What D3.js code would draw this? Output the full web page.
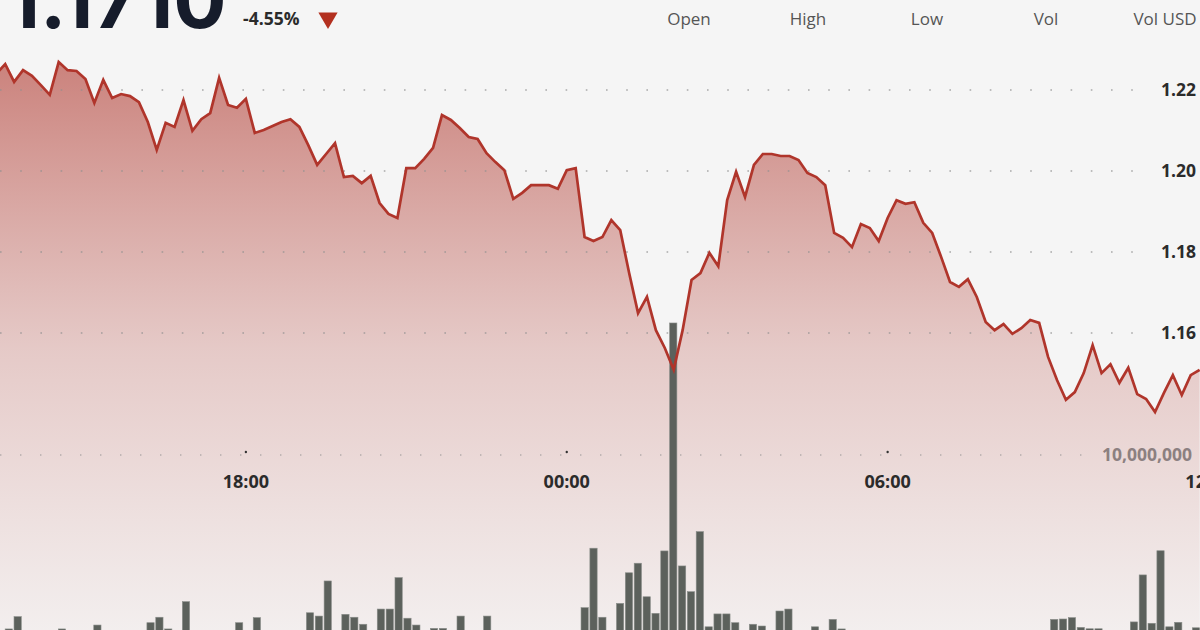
<!DOCTYPE html>
<html><head><meta charset="utf-8">
<script src="https://cdn.jsdelivr.net/npm/d3@7"></script>
<style>
html,body{margin:0;padding:0;background:#f5f5f5;overflow:hidden}
svg{display:block;font-family:"Open Sans","Noto Sans",sans-serif}
</style>
</head><body>
<svg id="c" width="1200" height="630"></svg>
<script>
// ---------- data ----------
const headerLabels = ["Open", "High", "Low", "Vol", "Vol USD"];
const lastPrice = "1.1710";
const changePct = "-4.55%";
const priceTicks = [1.16, 1.18, 1.20, 1.22];
const volumeTicks = [10];                 // millions
const timeTickLabels = ["18:00", "00:00", "06:00", "12:00"];
const timeTickMinutes = [18 * 60, 24 * 60, 30 * 60, 36 * 60]; // minutes from day start
const startMinute = 13 * 60 + 20;         // first sample 13:20, 10-minute samples
const stepMinutes = 10;

const prices = [
 1.2240,1.2264,1.2220,1.2249,1.2235,1.2212,1.2188,1.2269,1.2249,1.2247,
 1.2227,1.2168,1.2225,1.2180,1.2190,1.2185,1.2170,1.2121,1.2052,1.2119,
 1.2109,1.2175,1.2099,1.2128,1.2143,1.2230,1.2163,1.2156,1.2178,1.2094,
 1.2101,1.2111,1.2121,1.2128,1.2109,1.2064,1.2015,1.2042,1.2069,1.1985,
 1.1988,1.1970,1.1988,1.1921,1.1894,1.1884,1.2007,1.2007,1.2030,1.2057,
 1.2138,1.2126,1.2106,1.2084,1.2079,1.2044,1.2022,1.2002,1.1931,1.1946,
 1.1965,1.1965,1.1965,1.1956,1.2002,1.2007,1.1837,1.1827,1.1837,1.1879,
 1.1854,1.1748,1.1649,1.1689,1.1607,1.1563,1.1509,1.1607,1.1731,1.1748,
 1.1798,1.1765,1.1928,1.1998,1.1936,1.2015,1.2042,1.2042,1.2037,1.2037,
 1.2027,1.1995,1.1985,1.1965,1.1847,1.1835,1.1812,1.1869,1.1859,1.1827,
 1.1884,1.1928,1.1919,1.1923,1.1872,1.1847,1.1788,1.1726,1.1714,1.1733,
 1.1689,1.1627,1.1607,1.1622,1.1598,1.1612,1.1632,1.1625,1.1541,1.1484,
 1.1435,1.1454,1.1501,1.1570,1.1501,1.1523,1.1477,1.1514,1.1449,1.1437,
 1.1405,1.1452,1.1496,1.1447,1.1496,1.1509
];

const volumes = [ // millions
 0.5,1.08,1.71,0.6,0.5,0.7,0.5,1.08,0.5,0.4,
 0.6,1.28,0.5,0.7,0.5,0.4,0.6,1.40,1.68,1.08,
 0.5,2.48,0.6,0.5,0.4,0.7,0.5,1.40,0.6,1.66,
 0.5,0.4,0.6,0.5,0.8,1.91,1.74,3.54,0.9,1.83,
 1.68,1.32,0.8,2.10,2.10,3.71,1.63,1.28,0.7,1.11,
 1.11,0.6,1.74,0.5,0.7,1.74,0.5,0.6,0.4,0.5,
 0.6,0.5,0.4,0.6,0.7,0.8,2.17,5.22,1.68,0.9,
 2.39,3.96,4.45,2.73,1.88,5.08,16.77,4.31,2.99,6.07,
 1.19,1.85,1.85,1.40,0.8,1.32,1.23,0.7,2.00,2.10,
 0.6,0.7,1.19,0.8,1.57,1.08,0.5,0.6,0.4,0.5,
 0.7,0.5,0.6,0.4,0.5,0.6,0.5,0.4,0.6,0.5,
 0.7,0.5,0.4,0.6,0.5,0.4,0.6,0.5,0.7,1.57,
 1.59,1.66,1.16,1.09,1.09,0.7,0.6,0.8,1.44,3.85,
 1.37,5.09,1.19,1.42,0.7,1.14
];

// ---------- setup ----------
const day0 = Date.UTC(2024, 0, 1);
const toDate = m => new Date(day0 + m * 60000);
const times = prices.map((_, i) => toDate(startMinute + i * stepMinutes));
const data = prices.map((p, i) => ({ t: times[i], p, v: volumes[i] }));

const svg = d3.select("#c");
svg.append("rect").attr("width", 1200).attr("height", 630).attr("fill", "#f5f5f5");

const x = d3.scaleTime().domain([times[0], times[times.length - 1]]).range([-3.7, 1199.6]);
const y = d3.scaleLinear().domain([1.16, 1.22]).range([333, 90]);
const yv = d3.scaleLinear().domain([0, 10]).range([650, 455]);
const xb = d3.scaleBand().domain(times.map(d => +d)).range(x.range()).paddingInner(0.18).paddingOuter(0);

// gradient
const defs = svg.append("defs");
const grad = defs.append("linearGradient").attr("id", "g")
  .attr("gradientUnits", "userSpaceOnUse").attr("x1", 0).attr("x2", 0).attr("y1", 60).attr("y2", 640);
grad.append("stop").attr("offset", 0).attr("stop-color", "#b5463d").attr("stop-opacity", 0.66);
grad.append("stop").attr("offset", 0.5).attr("stop-color", "#bd5a52").attr("stop-opacity", 0.28);
grad.append("stop").attr("offset", 1).attr("stop-color", "#c46a64").attr("stop-opacity", 0.04);

// area
const area = d3.area().x(d => x(d.t)).y0(640).y1(d => y(d.p));
svg.append("path").datum(data).attr("d", area).attr("fill", "url(#g)");

// price gridlines
const gridG = svg.append("g");
gridG.selectAll("line.pg").data(priceTicks).join("line")
  .attr("x1", 0).attr("x2", 1146)
  .attr("y1", d => y(d)).attr("y2", d => y(d))
  .attr("stroke", "#8f8f8f").attr("stroke-width", 1.6)
  .attr("stroke-dasharray", "1.6,18.6").attr("stroke-linecap", "butt")
  .attr("stroke-opacity", 0.75);
// volume gridline / time axis
gridG.selectAll("line.vg").data(volumeTicks).join("line")
  .attr("x1", 0).attr("x2", 1090)
  .attr("y1", d => yv(d)).attr("y2", d => yv(d))
  .attr("stroke", "#8f8f8f").attr("stroke-width", 1.4)
  .attr("stroke-dasharray", "1.4,18.6").attr("stroke-opacity", 0.6);

// price labels
svg.append("g").selectAll("text").data(priceTicks).join("text")
  .attr("x", 1161).attr("y", d => y(d)).attr("dy", "0.36em")
  .attr("font-size", 17.5).attr("font-weight", 700).attr("fill", "#2b2b2b")
  .text(d => d.toFixed(2));

// volume label
svg.append("g").selectAll("text").data(volumeTicks).join("text")
  .attr("x", 1102).attr("y", d => yv(d)).attr("dy", "0.36em")
  .attr("font-size", 17.5).attr("font-weight", 700).attr("fill", "#8c8080")
  .text(d => d3.format(",")(d * 1e6));

// time ticks & labels
const tickTimes = timeTickMinutes.map(toDate);
svg.append("g").selectAll("circle").data(tickTimes).join("circle")
  .attr("cx", d => x(d)).attr("cy", yv(10) - 3).attr("r", 1.2).attr("fill", "#333");
svg.append("g").selectAll("text").data(tickTimes).join("text")
  .attr("x", d => x(d)).attr("y", 488).attr("text-anchor", "middle")
  .attr("font-size", 18).attr("font-weight", 700).attr("fill", "#2b2b2b")
  .text((d, i) => timeTickLabels[i]);

// volume bars
svg.append("g").selectAll("rect").data(data).join("rect")
  .attr("x", d => xb(+d.t)).attr("width", xb.bandwidth())
  .attr("y", d => yv(d.v)).attr("height", d => yv(0) - yv(d.v))
  .attr("fill", "#5c615c").attr("stroke", "#8a8e8a").attr("stroke-width", 0.6);

// price line
const line = d3.line().x(d => x(d.t)).y(d => y(d.p));
svg.append("path").datum(data).attr("d", line)
  .attr("fill", "none").attr("stroke", "#b0352b").attr("stroke-width", 2.7)
  .attr("stroke-linejoin", "miter");

// header
svg.append("text").attr("x", 6).attr("y", 28)
  .attr("font-family", "Inter, 'Open Sans', sans-serif")
  .attr("font-size", 79).attr("font-weight", 700).attr("fill", "#161c2b")
  .text(lastPrice);
svg.append("text").attr("x", 243).attr("y", 25)
  .attr("font-size", 17.5).attr("font-weight", 700).attr("fill", "#2b2b2b")
  .text(changePct);
svg.append("path")
  .attr("transform", "translate(328,18) rotate(180)")
  .attr("d", d3.symbol(d3.symbolTriangle, 160)())
  .attr("fill", "#b3301f");

const hx = d3.scalePoint().domain(headerLabels).range([689, 1165]);
svg.append("g").selectAll("text").data(headerLabels).join("text")
  .attr("x", d => hx(d)).attr("y", 25).attr("text-anchor", "middle")
  .attr("font-size", 17).attr("fill", "#555")
  .text(d => d);
</script>
</body></html>
